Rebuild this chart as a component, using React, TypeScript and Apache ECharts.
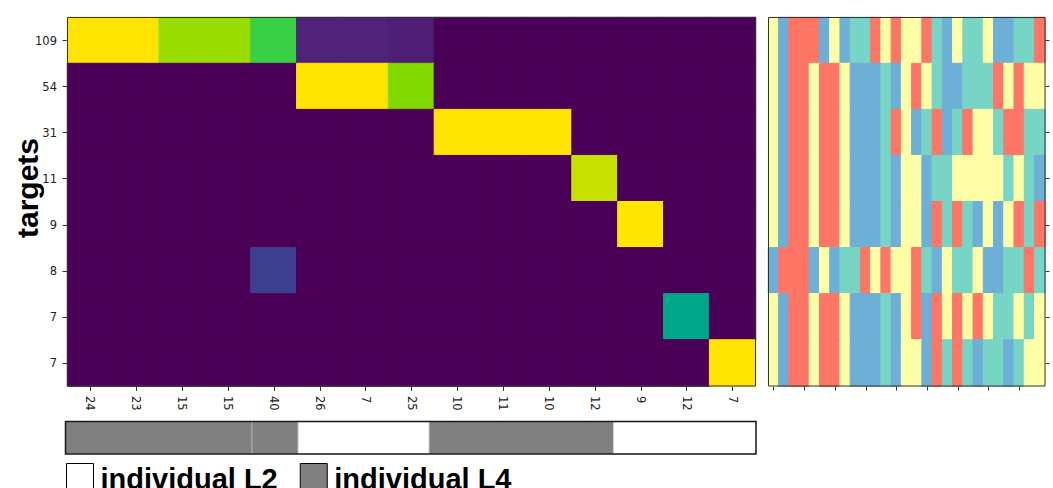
import React, { useEffect, useRef } from "react";
import * as echarts from "echarts";

// Row labels (targets) and column labels (sources) of the share matrix
const targetLabels = ["109", "54", "31", "11", "9", "8", "7", "7"];
const sourceLabels = ["24", "23", "15", "15", "40", "26", "7", "25", "10", "11", "10", "12", "9", "12", "7"];

// Share of each source column that lands in each target row (0..1)
const shareRows: number[][] = [
  [1, 1, 0.8, 0.8, 0.6, 0.1, 0.1, 0.085, 0, 0, 0, 0, 0, 0, 0],
  [0, 0, 0, 0, 0, 1, 1, 0.7, 0, 0, 0, 0, 0, 0, 0],
  [0, 0, 0, 0, 0, 0, 0, 0, 1, 1, 1, 0, 0, 0, 0],
  [0, 0, 0, 0, 0, 0, 0, 0, 0, 0, 0, 0.9, 0, 0, 0],
  [0, 0, 0, 0, 0, 0, 0, 0, 0, 0, 0, 0, 1, 0, 0],
  [0, 0, 0, 0, 0.2, 0, 0, 0, 0, 0, 0, 0, 0, 0, 0],
  [0, 0, 0, 0, 0, 0, 0, 0, 0, 0, 0, 0, 0, 0.5, 0],
  [0, 0, 0, 0, 0, 0, 0, 0, 0, 0, 0, 0, 0, 0, 1],
];

// Colour ramp for the share matrix, evenly spaced over 0..1
const shareRamp = [
  "#4A0056", "#50237A", "#3E3F8C", "#2D5E91", "#17808E", "#00A688",
  "#3AD046", "#80D800", "#98DC00", "#C6E000", "#FFE400",
];

// Per-target sequence of states (Y, B, R, T), one letter per position
const stateRows = [
  "YBRRRBYBTTRYRYYRTBYTTYBBTTR",
  "YBRRYRRYBBBTBYRYTBBTTTRYRYY",
  "YBRRYRRYBBBTRYBTRBTRYYTRRTT",
  "YBRRYRRYBBBTBYYBTTYYYYYTYTB",
  "YBRRYRRYBBBTBYYBRTRTBYBYRTR",
  "BRRRBYBTTRYRYYRTBYTTYBBTTRT",
  "YBRRYRRYBBBTBYRBRYRYRYTTYTY",
  "YBRRYRRYBBBTBYYBRTRTBTTBTYY",
];
const stateCodes = ["Y", "B", "R", "T"];
const stateColors = ["#FFFFA8", "#6DAFD6", "#FE7666", "#77D5C5"];

// Level strip under the matrix: level of each run and its length in columns
const levelNames = ["individual L2", "individual L4"];
const levelColors = ["#ffffff", "#808080"];
const stripLevels = ["individual L4", "individual L4", "individual L2", "individual L4", "individual L2"];
const stripSpans = [4.05, 1.0, 2.85, 4.0, 3.1];

const tickFont = { fontFamily: "DejaVu Sans", fontSize: 11.5, color: "#222" };
const tickLine = { color: "#333", width: 1 };

// Plot rectangles (pixels)
const mainRect = { left: 67.5, top: 17.5, width: 688, height: 368.5 };
const sideRect = { left: 768.5, top: 17.5, width: 276.5, height: 368.5 };
const stripRect = { left: 65.5, top: 421.5, width: 690.5, height: 32.5 };

export default function App() {
  const ref = useRef<HTMLDivElement>(null);

  useEffect(() => {
    if (!ref.current) return;
    const chart = echarts.init(ref.current, null, { renderer: "svg" });

    // each cell gets an outline in its own colour so neighbouring cells join without seams
    const shareData: any[] = [];
    shareRows.forEach((row, r) =>
      row.forEach((v, c) =>
        shareData.push({
          value: [c, r, v],
          itemStyle: { borderColor: echarts.color.lerp(v, shareRamp), borderWidth: 1 },
        })
      )
    );

    const stateData: any[] = [];
    stateRows.forEach((row, r) =>
      row.split("").forEach((ch, c) => {
        const k = stateCodes.indexOf(ch);
        stateData.push({ value: [c, r, k], itemStyle: { borderColor: stateColors[k], borderWidth: 1 } });
      })
    );
    const positions = stateRows[0].split("").map((_, i) => String(i + 1));

    const stripSeries = stripLevels.map((lvl, i) => ({
      type: "bar",
      name: lvl,
      xAxisIndex: 2,
      yAxisIndex: 2,
      stack: "levels",
      barWidth: "100%",
      data: [stripSpans[i]],
      itemStyle: {
        color: levelColors[levelNames.indexOf(lvl)],
        borderColor: "rgba(150,150,150,0.7)",
        borderWidth: 0.5,
      },
      silent: true,
    }));

    const frame = { show: true, z: 10, backgroundColor: "transparent" };

    chart.setOption({
      animation: false,
      textStyle: { fontFamily: "DejaVu Sans" },
      grid: [
        { ...mainRect, ...frame, borderColor: "#333", borderWidth: 1 },
        { ...sideRect, ...frame, borderColor: "#333", borderWidth: 1 },
        { ...stripRect, ...frame, borderColor: "#1a1a1a", borderWidth: 1.5 },
      ],
      xAxis: [
        {
          type: "category", gridIndex: 0, data: sourceLabels, position: "bottom",
          axisLine: { show: false },
          axisTick: { show: true, alignWithLabel: true, length: 5, lineStyle: tickLine },
          axisLabel: { ...tickFont, rotate: -90, margin: 10, interval: 0 },
          splitLine: { show: false },
        },
        {
          type: "category", gridIndex: 1, data: positions, position: "bottom",
          axisLine: { show: false },
          axisTick: { show: true, alignWithLabel: true, interval: 2, length: 4.5, lineStyle: tickLine },
          axisLabel: { show: false },
          splitLine: { show: false },
        },
        { type: "value", gridIndex: 2, min: 0, max: 15, show: false },
      ],
      yAxis: [
        {
          type: "category", gridIndex: 0, data: targetLabels, inverse: true,
          axisLine: { show: false },
          axisTick: { show: true, alignWithLabel: true, length: 5, lineStyle: tickLine },
          axisLabel: { ...tickFont, margin: 10.5, interval: 0 },
          splitLine: { show: false },
        },
        {
          type: "category", gridIndex: 1, data: targetLabels, inverse: true, position: "right",
          axisLine: { show: false },
          axisTick: { show: true, alignWithLabel: true, length: 4.5, lineStyle: tickLine },
          axisLabel: { show: false },
          splitLine: { show: false },
        },
        { type: "category", gridIndex: 2, data: ["level"], show: false },
      ],
      visualMap: [
        { type: "continuous", seriesIndex: 0, dimension: 2, min: 0, max: 1, show: false, inRange: { color: shareRamp } },
        {
          type: "piecewise", seriesIndex: 1, dimension: 2, show: false,
          pieces: stateColors.map((color, i) => ({ value: i, color })),
        },
      ],
      legend: {
        data: levelNames,
        left: 66,
        top: 463,
        padding: 0,
        orient: "horizontal",
        icon: "rect",
        itemWidth: 27,
        itemHeight: 30,
        itemGap: 22,
        selectedMode: false,
        itemStyle: { borderColor: "#000", borderWidth: 1 },
        textStyle: { fontFamily: "Liberation Sans", fontWeight: "bold", fontSize: 29, color: "#000", padding: [0, 0, 0, 2] },
      },
      graphic: [
        {
          // dark backdrop behind the share matrix
          type: "rect",
          z: -1,
          silent: true,
          shape: { x: mainRect.left, y: mainRect.top, width: mainRect.width, height: mainRect.height },
          style: { fill: shareRamp[0] },
        },
        {
          type: "text",
          x: 27,
          y: 188,
          rotation: Math.PI / 2,
          style: {
            text: "targets",
            fontFamily: "Liberation Sans",
            fontWeight: "bold",
            fontSize: 30,
            fill: "#000",
            align: "center",
            verticalAlign: "middle",
          },
        },
      ],
      series: [
        { type: "heatmap", xAxisIndex: 0, yAxisIndex: 0, data: shareData, silent: true },
        { type: "heatmap", xAxisIndex: 1, yAxisIndex: 1, data: stateData, silent: true },
        ...stripSeries,
      ],
    });

    return () => chart.dispose();
  }, []);

  return (
    <div
      ref={ref}
      style={{ position: "fixed", left: 0, top: 0, width: 1053, height: 488, background: "#fff" }}
    />
  );
}
